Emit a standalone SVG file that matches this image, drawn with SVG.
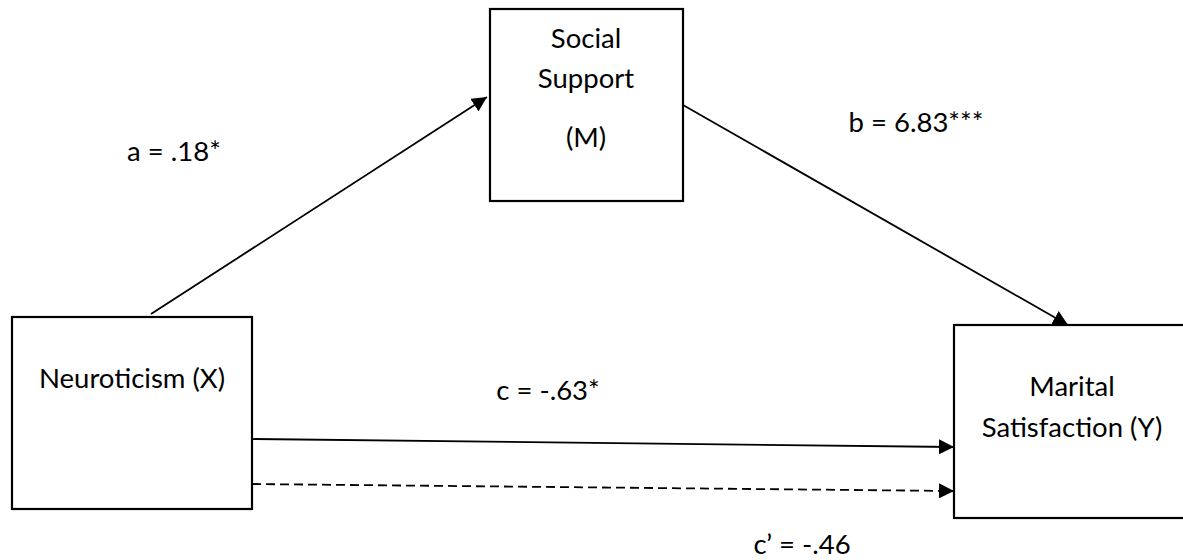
<svg xmlns="http://www.w3.org/2000/svg" width="1183" height="560" viewBox="0 0 1183 560">
  <style>
    .box { fill: #ffffff; stroke: #000000; stroke-width: 2.2; }
    .lbl { font-family: Lato, "Open Sans", "Liberation Sans", sans-serif; font-size: 27.5px; fill: #000000; text-anchor: middle; }
    .edge { stroke: #000000; stroke-width: 1.8; fill: none; marker-end: url(#arrow); }
    .dash { stroke-dasharray: 9 5; }
  </style>
  <defs>
    <marker id="arrow" viewBox="0 0 10 10" refX="10" refY="5" markerWidth="15" markerHeight="15" markerUnits="userSpaceOnUse" orient="auto">
      <path d="M0,0 L10,5 L0,10 Z" fill="#000000"/>
    </marker>
  </defs>
  <rect width="1183" height="560" fill="#ffffff"/>
  <g id="node-social-support">
    <rect class="box" x="490" y="9" width="193" height="192"/>
    <text class="lbl" x="586" y="48">Social</text>
    <text class="lbl" x="586" y="88">Support</text>
    <text class="lbl" x="586" y="147">(M)</text>
  </g>
  <g id="node-neuroticism">
    <rect class="box" x="12" y="317" width="240" height="192"/>
    <text class="lbl" x="132" y="388">Neuroticism (X)</text>
  </g>
  <g id="node-marital-satisfaction">
    <rect class="box" x="954" y="325" width="240" height="193"/>
    <text class="lbl" x="1072" y="396">Marital</text>
    <text class="lbl" x="1072" y="437">Satisfaction (Y)</text>
  </g>
  <g id="connectors">
    <line class="edge" x1="151" y1="314" x2="487" y2="97"/>
    <line class="edge" x1="683" y1="105" x2="1068" y2="325"/>
    <line class="edge" x1="252" y1="439" x2="954" y2="447"/>
    <line class="edge dash" x1="252" y1="484" x2="954" y2="491"/>
  </g>
  <g id="labels">
    <text class="lbl" x="174" y="161">a = .18*</text>
    <text class="lbl" x="916" y="132">b = 6.83***</text>
    <text class="lbl" x="548" y="400">c = -.63*</text>
    <text class="lbl" x="802" y="554">c’ = -.46</text>
  </g>
</svg>
